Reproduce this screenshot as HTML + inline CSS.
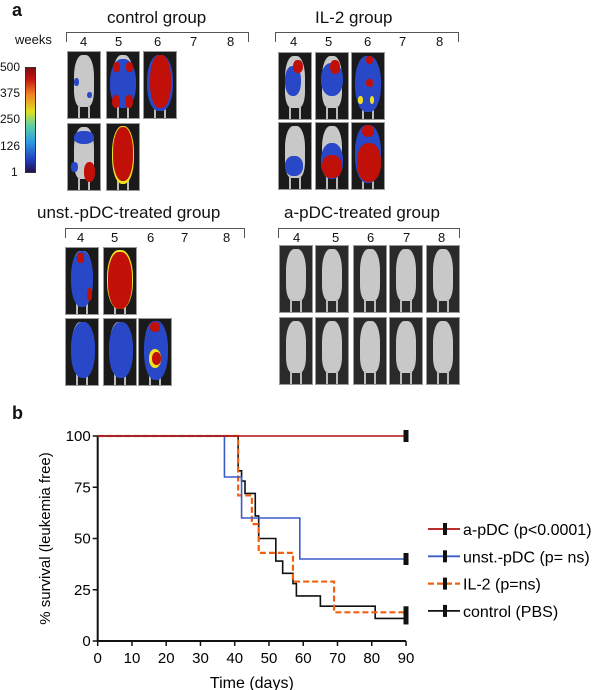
<!DOCTYPE html>
<html><head><meta charset="utf-8"><style>
body{margin:0;width:600px;height:690px;background:#fff;position:relative;overflow:hidden;font-family:"Liberation Sans",sans-serif;color:#111}
.t{position:absolute;white-space:nowrap}
.p{position:absolute;background:#111;border:1px solid #999;overflow:hidden;box-sizing:border-box}
.body{position:absolute;left:18%;top:4%;width:64%;height:80%;background:#c8c8c8;border-radius:40% 40% 30% 30%}
.leg1{position:absolute;left:30%;bottom:0;width:8%;height:20%;background:#bbb}
.leg2{position:absolute;right:30%;bottom:0;width:8%;height:20%;background:#bbb}
.blob{position:absolute;border-radius:50%}
</style></head><body>
<div class="t" style="left:12px;top:0;font-weight:bold;font-size:18px">a</div>
<div class="t" style="left:107px;top:8px;font-size:17px">control group</div>
<div class="t" style="left:315px;top:8px;font-size:17px">IL-2 group</div>
<div class="t" style="left:37px;top:203px;font-size:17px">unst.-pDC-treated group</div>
<div class="t" style="left:284px;top:203px;font-size:17px">a-pDC-treated group</div>
<div class="t" style="left:15px;top:32px;font-size:13px">weeks</div>
<div id="brackets"></div>
<div style="position:absolute;left:25px;top:67px;width:9px;height:104px;border:1px solid #333;background:linear-gradient(to top,#201050,#2040c0 12%,#30a0e0 30%,#60d0a0 45%,#e0e020 58%,#f08020 75%,#c01010 90%,#801010)"></div>
<div class="t" style="left:0;top:60px;font-size:12px">500</div>
<div class="t" style="left:0;top:86px;font-size:12px">375</div>
<div class="t" style="left:0;top:112px;font-size:12px">250</div>
<div class="t" style="left:0;top:139px;font-size:12px">126</div>
<div class="t" style="left:11px;top:165px;font-size:12px">1</div>
<div id="panels"></div>
<div class="t" style="left:12px;top:403px;font-weight:bold;font-size:18px">b</div>
<svg id="chart" width="600" height="690" style="position:absolute;left:0;top:0"></svg>
<script>
// ---- brackets ----
const brackets=[[66,247,32,"control",[84,119,158,194,231]],[275,457,32,"il2",[294,329,368,403,440]],[65,243,228,"unst",[81,115,151,185,227]],[278,458,228,"apdc",[297,336,371,407,442]]];
const weeks=["4","5","6","7","8"];
let bh="";
brackets.forEach(b=>{
  bh+=`<div style="position:absolute;left:${b[0]}px;top:${b[2]}px;width:${b[1]-b[0]}px;height:9px;border:1px solid #555;border-bottom:none"></div>`;
  weeks.forEach((k,i)=>{bh+=`<div class="t" style="left:${b[4][i]-4}px;top:${b[2]+2}px;font-size:13px">${k}</div>`;});
});
document.getElementById('brackets').innerHTML=bh;
// ---- mouse panels ----
const cR='#c01008',cY='#f0e020',cB='#2848c8';
const panels=[
 [67,51,[[20,40,15,12,cB],[60,60,14,10,cB]]],[106,51,[[10,10,80,75,cB],[20,15,20,15,cR],[60,15,20,15,cR],[15,65,25,20,cR],[55,65,25,20,cR]]],[143,51,[[10,5,80,85,cB],[20,5,65,80,cR]]],
 [67,123,[[20,10,60,20,cB],[50,58,35,30,cR],[10,58,20,15,cB]]],[106,123,[[15,3,70,88,cY],[18,5,64,82,cR]]],
 [278,52,[[20,20,50,45,cB],[45,10,30,20,cR]]],[315,52,[[15,15,70,50,cB],[45,10,30,22,cR]]],[351,52,[[10,5,80,85,cB],[45,5,20,12,cR],[45,40,20,12,cR],[20,65,15,12,cY],[55,65,15,12,cY]]],
 [278,122,[[20,50,55,30,cB]]],[315,122,[[15,30,70,55,cB],[20,48,60,35,cR]]],[351,122,[[10,3,80,88,cB],[15,30,75,60,cR],[30,3,40,18,cR]]],
 [65,247,[[15,5,70,85,cB],[35,8,20,14,cR],[65,60,15,20,cR]]],[103,247,[[10,3,80,90,cY],[13,6,74,86,cR]]],
 [65,318,[[15,5,75,85,cB]]],[103,318,[[15,5,75,85,cB]]],[138,318,[[15,3,75,90,cB],[35,5,30,14,cR],[30,45,40,30,cY],[40,50,30,20,cR]]],
 [279,245,[]],[315,245,[]],[353,245,[]],[389,245,[]],[426,245,[]],
 [279,317,[]],[315,317,[]],[353,317,[]],[389,317,[]],[426,317,[]]
];
let ph="";
panels.forEach((p,i)=>{
  let bl=p[2].map(q=>`<div class="blob" style="left:${q[0]}%;top:${q[1]}%;width:${q[2]}%;height:${q[3]}%;background:${q[4]};border-radius:45%"></div>`).join("");
  const bg=p[0]>270&&p[1]>240?'#2a2a2a':'#1a1a1a';
  ph+=`<div class="p" style="left:${p[0]}px;top:${p[1]}px;width:34px;height:68px;background:${bg}"><div class="body"></div><div class="leg1"></div><div class="leg2"></div>${bl}</div>`;
});
document.getElementById('panels').innerHTML=ph;
</script>
<script>
// ---- survival chart data ----
const xTicks=[0,10,20,30,40,50,60,70,80,90];
const yTicks=[0,25,50,75,100];
const apdcT=[0,90];const apdcS=[100,100];
const unstT=[0,37,42,59,90];const unstS=[100,80,60,40,40];
const il2T=[0,41,45,47,57,69,90];const il2S=[100,71,57,43,29,14,14];
const ctrlT=[0,41,42,43,46,47,52,54,57,58,65,81,90];const ctrlS=[100,83,78,72,61,50,39,33,28,22,17,11,11];
const seriesNames=["a-pDC (p<0.0001)","unst.-pDC (p= ns)","IL-2 (p=ns)","control (PBS)"];
const X=d=>97.7+d*(406-97.7)/90, Y=v=>641-v*(641-436)/100;
const svg=document.getElementById('chart');const NS="http://www.w3.org/2000/svg";
function mk(tag,at,txt){const el=document.createElementNS(NS,tag);for(const k in at)el.setAttribute(k,at[k]);if(txt!=null)el.textContent=txt;svg.appendChild(el);return el;}
let e=mk('line',{x1:X(0),y1:Y(0),x2:X(90),y2:Y(0),stroke:'#111','stroke-width':2});

e=mk('line',{x1:X(0),y1:Y(0),x2:X(0),y2:Y(100),stroke:'#111','stroke-width':2});

xTicks.forEach(t=>{mk('line',{x1:X(t),y1:Y(0),x2:X(t),y2:Y(0)+5,stroke:'#111','stroke-width':1.5});
 e=mk('text',{x:X(t),y:Y(0)+22,'font-size':15,'text-anchor':'middle','font-family':'Liberation Sans'},t);
 });
yTicks.forEach(t=>{mk('line',{x1:X(0)-5,y1:Y(t),x2:X(0),y2:Y(t),stroke:'#111','stroke-width':1.5});
 e=mk('text',{x:X(0)-7,y:Y(t)+5,'font-size':15,'text-anchor':'end','font-family':'Liberation Sans'},t);
 });
e=mk('text',{x:X(45),y:688,'font-size':16,'text-anchor':'middle','font-family':'Liberation Sans'},'Time (days)');

e=mk('text',{x:0,y:0,'font-size':15,'text-anchor':'middle','font-family':'Liberation Sans',transform:`translate(50,${Y(50)}) rotate(-90)`},'% survival (leukemia free)');

function step(T,S){let d=`M${X(T[0])},${Y(S[0])}`;for(let i=1;i<T.length;i++){d+=`H${X(T[i])}V${Y(S[i])}`;}return d;}
const styles=[['#b01010',''],['#3a5cc8',''],['#f06010','6,3'],['#111','']];
const data=[[apdcT,apdcS],[unstT,unstS],[il2T,il2S],[ctrlT,ctrlS]];
const names=['apdc','unst','il2','control'];
[3,2,1,0].forEach(i=>{const [T,S]=data[i];
 e=mk('path',{d:step(T,S),fill:'none',stroke:styles[i][0],'stroke-width':i==2?2.2:1.6,'stroke-dasharray':styles[i][1]});
 
 e=mk('rect',{x:X(T[T.length-1])-2.5,y:Y(S[S.length-1])-6,width:5,height:12,fill:'#111'});
 
});
seriesNames.forEach((n,i)=>{const y=529+i*27.3;
 e=mk('line',{x1:428,y1:y,x2:460,y2:y,stroke:styles[i][0],'stroke-width':i==2?2.2:1.8,'stroke-dasharray':styles[i][1]});
 
 mk('rect',{x:443,y:y-6,width:4,height:12,fill:'#111'});
 e=mk('text',{x:463,y:y+6,'font-size':16,'font-family':'Liberation Sans'},n);
 
});
</script>
</body></html>
